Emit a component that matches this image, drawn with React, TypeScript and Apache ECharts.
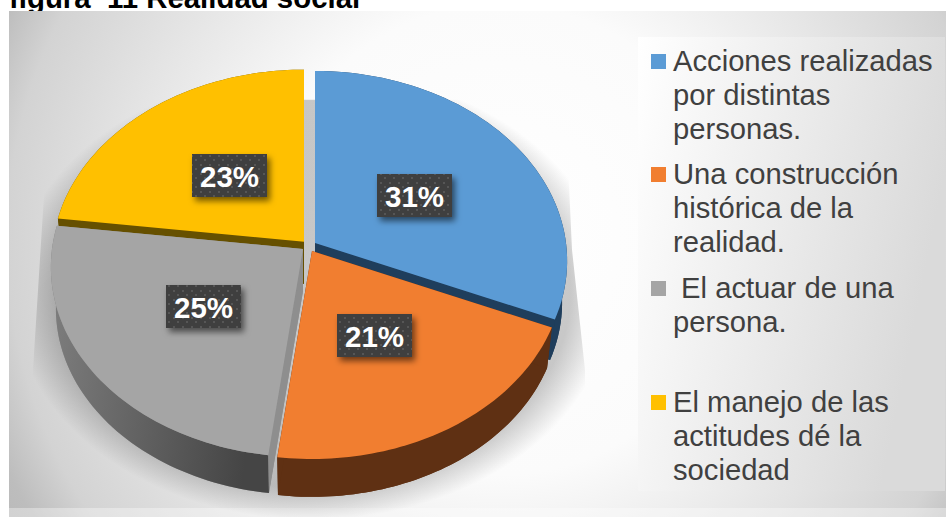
import React, { useEffect, useRef } from "react";
import * as echarts from "echarts";

const categories = ["Acciones realizadas por distintas personas.", "Una construcción histórica de la realidad.", "El actuar de una persona.", "El manejo de las actitudes dé la sociedad"];
const values = [31.4, 20.6, 25, 23];
const topColors = ["#5b9bd5", "#f17e30", "#a5a5a5", "#ffc000"];
const sideColors: any[] = [
  "#1f3e5c",
  "#5f3013",
  { type: "linear", x: 0, y: 0, x2: 1, y2: 0.15, colorStops: [{ offset: 0, color: "#808080" }, { offset: 1, color: "#454545" }] },
  "#665000",
];
const wallColors = ["#1f3e5c", "#5f3013", "#8e8e8e", "#665000"];
const apexes = [[315, 243], [312, 251], [303, 249], [304, 241.7]];
const paintOrder = [2, 4, 3, 1];
const labelBoxes = [[377, 174], [337, 314], [166, 285], [192, 154]];
const legendLines = [
  ["Acciones realizadas", "por distintas", "personas."],
  ["Una construcción", "histórica de la", "realidad."],
  [" El actuar de una", "persona."],
  ["El manejo de las", "actitudes dé la", "sociedad"],
];
const legendFirstLineY = [61, 174, 288, 402];
const title = "figura\u00a0\u00a011 Realidad social";

const R = 251, S = 188.3, K = 0.0947, SHRINK = 0.98, DROP = 42, STEPS = 60;

function project(theta: number) {
  const x = Math.sin(theta), y = -Math.cos(theta), d = 1 - K * y;
  return [(R * x) / d, (S * y) / d];
}

function makePattern() {
  const c = document.createElement("canvas");
  c.width = 9; c.height = 9;
  const g = c.getContext("2d")!;
  g.fillStyle = "#3f3f3f"; g.fillRect(0, 0, 9, 9);
  g.fillStyle = "#565656";
  g.fillRect(2, 2, 2, 2); g.fillRect(6, 6, 2, 2);
  return c.toDataURL();
}

export default function App() {
  const ref = useRef<HTMLDivElement>(null);
  useEffect(() => {
    document.body.style.margin = "0";
    const chart = echarts.init(ref.current!, null, { renderer: "svg" });
    const total = values.reduce((a, b) => a + b, 0);
    const pattern = { image: makePattern(), repeat: "repeat", imageWidth: 9, imageHeight: 9 };

    const renderItem = (params: any, api: any) => {
      const i = params.dataIndex;
      const v = api.value(0);
      let before = 0;
      for (let k = 0; k < i; k++) before += values[k];
      const a0 = (before / total) * Math.PI * 2;
      const a1 = ((before + v) / total) * Math.PI * 2;
      const [ax, ay] = apexes[i];
      const top: number[][] = [];
      const low: number[][] = [];
      for (let s = 0; s <= STEPS; s++) {
        const [px, py] = project(a0 + ((a1 - a0) * s) / STEPS);
        top.push([ax + px, ay + py]);
        low.push([ax + px * SHRINK, ay + py * SHRINK + DROP]);
      }
      const apexTop = [ax, ay];
      const apexLow = [ax, ay + DROP];
      const z = paintOrder[i];
      const poly = (points: number[][], fill: any, z2: number) => ({
        type: "polygon", shape: { points }, style: { fill, stroke: "none" }, z2, silent: true,
      });
      const [bx, by] = labelBoxes[i];
      const children: any[] = [
        poly([apexLow, ...low], wallColors[i], z * 10),
        poly([...top, ...low.slice().reverse()], sideColors[i], z * 10 + 1),
        poly([apexTop, top[0], low[0], apexLow], wallColors[i], z * 10 + 2),
        poly([apexTop, top[STEPS], low[STEPS], apexLow], wallColors[i], z * 10 + 2),
        poly([apexTop, ...top], topColors[i], z * 10 + 3),
        {
          type: "rect", shape: { x: bx, y: by, width: 75, height: 43 }, z2: 100,
          style: { fill: "#3f3f3f", shadowBlur: 6, shadowOffsetX: 3, shadowOffsetY: 4, shadowColor: "rgba(0,0,0,0.55)" },
        },
        { type: "rect", shape: { x: bx, y: by, width: 75, height: 43 }, z2: 101, style: { fill: pattern } },
        {
          type: "text", z2: 102,
          style: {
            text: `${Math.round(v)}%`, x: bx + 37.5, y: by + 22.5, align: "center", verticalAlign: "middle",
            fill: "#ffffff", font: 'bold 29.5px "Liberation Sans", Arial, sans-serif',
          },
        },
      ];
      return { type: "group", children };
    };

    const legendGraphics: any[] = [];
    legendLines.forEach((lines, i) => {
      const y0 = legendFirstLineY[i];
      legendGraphics.push({
        type: "rect", shape: { x: 651, y: y0 - 7, width: 15, height: 15 }, style: { fill: topColors[i] },
      });
      lines.forEach((line, j) => {
        legendGraphics.push({
          type: "text", x: 673, y: y0 + j * 34,
          style: {
            text: line, fill: "#404040", font: '29.2px "Liberation Sans", Arial, sans-serif',
            verticalAlign: "middle", align: "left",
          },
        });
      });
    });

    chart.setOption({
      animation: false,
      graphic: [
        { type: "rect", shape: { x: 0, y: 0, width: 946, height: 517 }, style: { fill: "#ffffff" } },
        {
          type: "text", x: 9, y: -3,
          style: { text: title, fill: "#000000", font: 'bold 29.4px "Liberation Sans", Arial, sans-serif', verticalAlign: "middle", align: "left" },
        },
        {
          type: "rect", shape: { x: 9, y: 11, width: 937, height: 506 },
          style: {
            fill: {
              type: "radial", x: 500, y: 240, r: 560, global: true,
              colorStops: [
                { offset: 0, color: "#ffffff" }, { offset: 0.42, color: "#fbfbfb" },
                { offset: 0.88, color: "#d3d3d3" }, { offset: 0.97, color: "#bdbdbd" }, { offset: 1, color: "#bbbbbb" },
              ],
            },
          },
        },
        { type: "rect", shape: { x: 9, y: 508, width: 937, height: 9 }, style: { fill: "rgba(255,255,255,0.35)" } },
        {
          type: "polygon", scaleY: 0.75,
          shape: { points: [[50, 133], [565, 133], [572, 333], [585, 493], [585, 690], [33, 690], [33, 493]] },
          style: {
            fill: {
              type: "radial", x: 312, y: 393, r: 300, global: true,
              colorStops: [
                { offset: 0, color: "rgba(0,0,0,0.21)" }, { offset: 0.86, color: "rgba(0,0,0,0.21)" }, { offset: 1, color: "rgba(0,0,0,0)" },
              ],
            },
          },
        },
        {
          type: "rect", shape: { x: 638, y: 37, width: 307, height: 454 },
          style: {
            fill: {
              type: "linear", x: 0, y: 0, x2: 1, y2: 0.3,
              colorStops: [{ offset: 0, color: "#ffffff" }, { offset: 1, color: "#dadada" }],
            },
          },
        },
        ...legendGraphics,
      ],
      series: [
        {
          type: "custom", coordinateSystem: "none", renderItem,
          data: categories.map((name, i) => ({ name, value: [values[i]] })),
          silent: true,
        },
      ],
    });
    return () => chart.dispose();
  }, []);
  return <div ref={ref} style={{ width: 946, height: 517, position: "absolute", left: 0, top: 0 }} />;
}
